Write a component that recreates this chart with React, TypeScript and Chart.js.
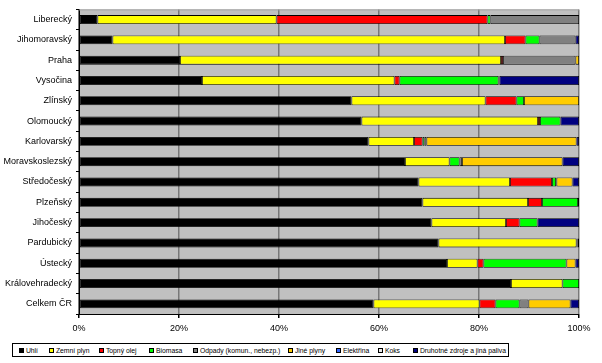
import React, { useEffect, useRef } from "react";
import { Chart, registerables } from "chart.js";

Chart.register(...registerables);

const categories = [
  "Liberecký", "Jihomoravský", "Praha", "Vysočina", "Zlínský", "Olomoucký",
  "Karlovarský", "Moravskoslezský", "Středočeský", "Plzeňský", "Jihočeský",
  "Pardubický", "Ústecký", "Královehradecký", "Celkem ČR",
];

const seriesNames = [
  "Uhlí", "Zemní plyn", "Topný olej", "Biomasa", "Odpady (komun., nebezp.)",
  "Jiné plyny", "Elektřina", "Koks", "Druhotné zdroje a jiná paliva",
];

const uhli = [3.7, 6.7, 20.2, 24.6, 54.5, 56.5, 57.9, 65.2, 67.9, 68.7, 70.5, 71.9, 73.6, 86.4, 58.9];
const zemniPlyn = [35.8, 78.5, 64.2, 38.5, 26.8, 35.3, 9.1, 8.9, 18.3, 21.1, 14.9, 27.6, 6.1, 10.3, 21.2];
const topnyOlej = [42.2, 4.1, 0.4, 1.0, 6.2, 0.4, 1.7, 0, 8.4, 2.8, 2.7, 0.2, 1.2, 0, 3.2];
const biomasa = [0.6, 2.8, 0, 19.8, 1.5, 4.1, 0.4, 2.0, 0.8, 7.2, 3.6, 0, 16.6, 3.3, 4.8];
const odpady = [17.7, 7.2, 14.5, 0.2, 0, 0, 0.4, 0.5, 0.1, 0, 0, 0, 0, 0, 1.8];
const jinePlyny = [0, 0, 0.7, 0, 11.0, 0, 30.0, 20.1, 3.2, 0.2, 0, 0, 1.8, 0, 8.4];
const elektrina = [0, 0, 0, 0, 0, 0, 0, 0, 0, 0, 0, 0, 0, 0, 0];
const koks = [0, 0, 0, 0, 0, 0, 0, 0, 0, 0, 0, 0, 0, 0, 0];
const druhotne = [0, 0.7, 0, 15.9, 0, 3.7, 0.5, 3.3, 1.3, 0, 8.3, 0.3, 0.7, 0, 1.7];

const xTicks = ["0%", "20%", "40%", "60%", "80%", "100%"];

const seriesValues = [uhli, zemniPlyn, topnyOlej, biomasa, odpady, jinePlyny, elektrina, koks, druhotne];
const seriesColors = ["#000000", "#FFFF00", "#FF0000", "#00FF00", "#808080", "#FFCC00", "#3366FF", "#E8E8E8", "#000080"];
const legendLeft = [19, 49, 99, 149, 193, 288, 336, 378, 413];

const FONT = 'Arial, "Liberation Sans", sans-serif';

const plotBg = {
  id: "plotBg",
  beforeDraw(chart: any) {
    const { ctx, chartArea } = chart;
    ctx.save();
    ctx.fillStyle = "#C0C0C0";
    ctx.fillRect(chartArea.left, chartArea.top, chartArea.right - chartArea.left, chartArea.bottom - chartArea.top);
    ctx.restore();
  },
  beforeDatasetsDraw(chart: any) {
    const { ctx, chartArea } = chart;
    ctx.save();
    ctx.strokeStyle = "#A0A0A0";
    ctx.lineWidth = 1;
    ctx.beginPath();
    ctx.moveTo(chartArea.left, chartArea.top + 0.5);
    ctx.lineTo(chartArea.right, chartArea.top + 0.5);
    ctx.stroke();
    ctx.restore();
  },
};

export default function App() {
  const ref = useRef<HTMLCanvasElement>(null);

  useEffect(() => {
    if (!ref.current) return;
    const chart = new Chart(ref.current, {
      type: "bar",
      data: {
        labels: categories,
        datasets: seriesNames.map((name, i) => ({
          label: name,
          data: seriesValues[i].map((v) => (v === 0 ? null : v)),
          backgroundColor: seriesColors[i],
          borderColor: "#000000",
          borderWidth: 0.8,
          borderSkipped: false,
          barPercentage: 0.44,
          categoryPercentage: 1,
        })),
      },
      options: {
        indexAxis: "y",
        animation: false,
        responsive: false,
        maintainAspectRatio: false,
        layout: { padding: { top: 5, right: 23, bottom: 29, left: 0 } },
        plugins: {
          legend: { display: false },
          tooltip: { enabled: false },
        },
        scales: {
          x: {
            stacked: true,
            min: 0,
            max: 100,
            afterFit: (s: any) => { s.height = 20; },
            ticks: {
              stepSize: 20,
              color: "#000",
              padding: 5,
              font: { family: FONT, size: 9 },
              callback: (_v: any, i: number) => xTicks[i],
            },
            grid: {
              color: "#787878",
              lineWidth: 1.5,
              tickColor: "#000",
              tickLength: 4,
            },
            border: { color: "#000", width: 1 },
          },
          y: {
            stacked: true,
            afterFit: (s: any) => { s.width = 79; },
            ticks: {
              color: "#000",
              padding: 4,
              font: { family: FONT, size: 9 },
            },
            grid: {
              drawOnChartArea: false,
              tickColor: "#000",
              tickLength: 3,
              offset: true,
            },
            border: { color: "#000", width: 1 },
          },
        },
      },
      plugins: [plotBg],
    });
    return () => chart.destroy();
  }, []);

  return (
    <div style={{ position: "fixed", left: 0, top: 0, width: 602, height: 363, background: "#fff" }}>
      <canvas ref={ref} width={602} height={363} style={{ display: "block" }} />
      <div
        style={{
          position: "absolute", left: 12, top: 343, width: 497, height: 14,
          border: "1px solid #000", boxSizing: "border-box", background: "#fff",
        }}
      />
      {seriesNames.map((name, i) => (
        <div
          key={name}
          style={{
            position: "absolute", left: legendLeft[i], top: 344, height: 12,
            display: "flex", alignItems: "center", whiteSpace: "nowrap",
            fontFamily: FONT, fontSize: 6.8, color: "#000",
          }}
        >
          <span
            style={{
              display: "inline-block", width: 5, height: 5, boxSizing: "border-box",
              border: "1px solid #000", background: seriesColors[i], marginRight: 0,
            }}
          />
          <span style={{ marginLeft: 0, paddingLeft: 0, position: "relative", left: 0 }}>&nbsp;{name}</span>
        </div>
      ))}
    </div>
  );
}
